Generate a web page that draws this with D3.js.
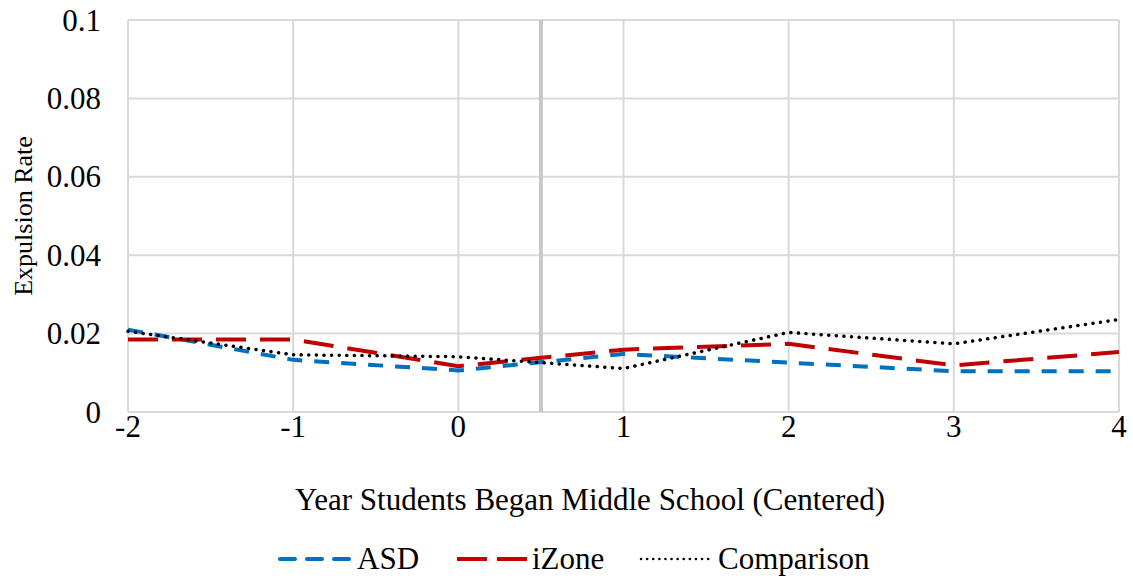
<!DOCTYPE html>
<html>
<head>
<meta charset="utf-8">
<script src="https://cdn.jsdelivr.net/npm/d3@7"></script>
<style>
body { margin: 0; background: #fff; }
</style>
</head>
<body>
<script>
var years = [-2, -1, 0, 1, 2, 3, 4];
var asd = [0.021, 0.0133, 0.0106, 0.0148, 0.0126, 0.0104, 0.0104];
var izone = [0.0185, 0.0185, 0.0117, 0.0159, 0.0174, 0.0119, 0.0153];
var comparison = [0.0206, 0.0146, 0.0141, 0.0111, 0.0203, 0.0174, 0.0236];
var yTicks = [0, 0.02, 0.04, 0.06, 0.08, 0.1];
var cutoff = 0.5;

var width = 1133, height = 580;
var margin = {left: 128, right: 14, top: 20, bottom: 168};
var font = "'Liberation Serif', 'Times New Roman', serif";

var svg = d3.select("body").append("svg")
  .attr("width", width)
  .attr("height", height)
  .style("font-family", font);

var x = d3.scaleLinear().domain([-2, 4]).range([margin.left, width - margin.right]);
var y = d3.scaleLinear().domain([0, 0.1]).range([height - margin.bottom, margin.top]);

// gridlines
svg.append("g").selectAll("line")
  .data(yTicks)
  .enter().append("line")
  .attr("x1", x(-2)).attr("x2", x(4))
  .attr("y1", function(d){ return y(d); })
  .attr("y2", function(d){ return y(d); })
  .attr("stroke", "#d9d9d9").attr("stroke-width", 2);

svg.append("g").selectAll("line")
  .data(years)
  .enter().append("line")
  .attr("x1", function(d){ return x(d); })
  .attr("x2", function(d){ return x(d); })
  .attr("y1", y(0)).attr("y2", y(0.1))
  .attr("stroke", "#d9d9d9").attr("stroke-width", 2);

// cutoff line
svg.append("line")
  .attr("x1", x(cutoff)).attr("x2", x(cutoff))
  .attr("y1", y(0)).attr("y2", y(0.1))
  .attr("stroke", "#c8c8c8").attr("stroke-width", 4);

// tick labels
svg.append("g").selectAll("text")
  .data(yTicks)
  .enter().append("text")
  .attr("x", 101)
  .attr("y", function(d){ return y(d); })
  .attr("dy", "0.34em")
  .attr("text-anchor", "end")
  .attr("font-family", font)
  .attr("font-size", 31)
  .text(function(d){ return d3.format("")(d); });

svg.append("g").selectAll("text")
  .data(years)
  .enter().append("text")
  .attr("x", function(d){ return x(d); })
  .attr("y", 437)
  .attr("text-anchor", "middle")
  .attr("font-family", font)
  .attr("font-size", 31)
  .text(function(d){ return d; });

svg.append("text")
  .attr("x", 590).attr("y", 510)
  .attr("text-anchor", "middle")
  .attr("font-family", font)
  .attr("font-size", 31)
  .text("Year Students Began Middle School (Centered)");

svg.append("text")
  .attr("transform", "translate(32,216) rotate(-90)")
  .attr("text-anchor", "middle")
  .attr("font-family", font)
  .attr("font-size", 26)
  .text("Expulsion Rate");

var series = [
  {name: "ASD", values: asd, color: "#0070c0", dash: "15,12", cap: "butt", w: 4},
  {name: "iZone", values: izone, color: "#c00000", dash: "30,14", cap: "butt", w: 4},
  {name: "Comparison", values: comparison, color: "#000000", dash: "0.1,7.5", cap: "round", w: 3.5}
];

var line = d3.line()
  .x(function(d, i){ return x(years[i]); })
  .y(function(d){ return y(d); });

svg.selectAll(".series")
  .data(series)
  .enter().append("path")
  .attr("class", "series")
  .attr("d", function(s){ return line(s.values); })
  .attr("fill", "none")
  .attr("stroke", function(s){ return s.color; })
  .attr("stroke-width", function(s){ return s.w; })
  .attr("stroke-dasharray", function(s){ return s.dash; })
  .attr("stroke-linecap", function(s){ return s.cap; });

// legend
var legendX = [280, 457, 641];
var leg = svg.selectAll(".leg")
  .data(series)
  .enter().append("g")
  .attr("class", "leg")
  .attr("transform", function(d, i){ return "translate(" + legendX[i] + ",559)"; });

leg.append("line")
  .attr("x1", 0).attr("x2", 70)
  .attr("stroke", function(s){ return s.color; })
  .attr("stroke-width", function(s){ return s.cap === "round" ? 2.5 : 4; })
  .attr("stroke-dasharray", function(s){ return s.name === "ASD" ? "15,12" : s.name === "iZone" ? "30,10" : "0.1,6"; })
  .attr("stroke-linecap", function(s){ return s.name === "ASD" ? "round" : s.cap; });

leg.append("text")
  .attr("x", function(s){ return s.name === "Comparison" ? 77 : s.name === "iZone" ? 75 : 77; })
  .attr("y", 0)
  .attr("dy", "0.32em")
  .attr("font-family", font)
  .attr("font-size", 31)
  .text(function(s){ return s.name; });
</script>
</body>
</html>
